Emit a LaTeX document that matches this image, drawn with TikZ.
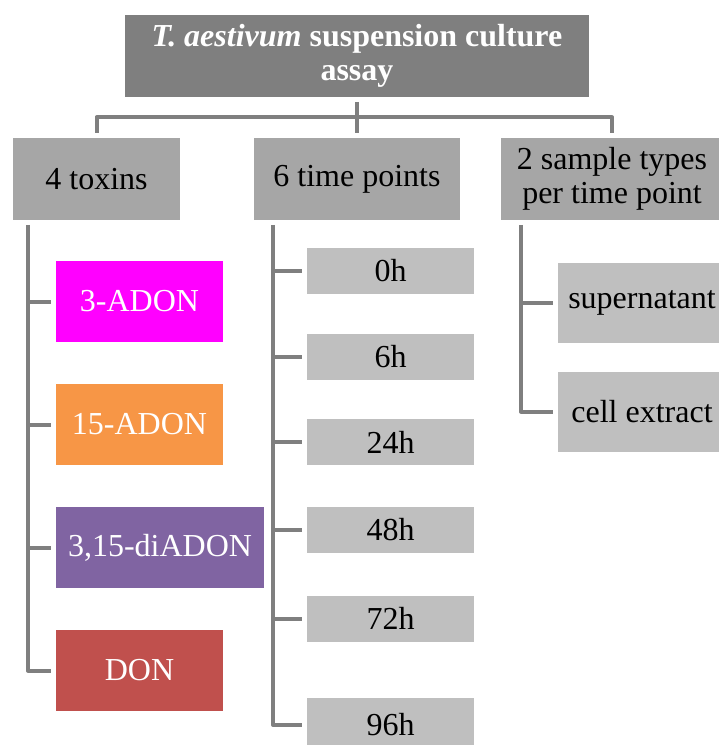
\documentclass[tikz,border=0pt]{standalone}
\usepackage{fontspec}
\setmainfont{Liberation Serif}
\definecolor{darkbox}{HTML}{7F7F7F}
\definecolor{midbox}{HTML}{A6A6A6}
\definecolor{lightbox}{HTML}{BFBFBF}
\definecolor{magentabox}{HTML}{FF00FF}
\definecolor{orangebox}{HTML}{F79646}
\definecolor{purplebox}{HTML}{8064A2}
\definecolor{redbox}{HTML}{C0504D}
\tikzset{
  box/.style={inner sep=0pt, outer sep=3.75pt, align=center,
    font=\fontsize{24}{25.5}\selectfont},
  headbox/.style={box, fill=darkbox, text=white, minimum width=348pt, minimum height=61.5pt},
  groupbox/.style={box, fill=midbox, minimum height=61.5pt},
  toxbox/.style={box, fill=#1, text=white, minimum width=125.25pt, minimum height=60.75pt},
  timebox/.style={box, fill=lightbox, minimum width=125.25pt, minimum height=34.5pt},
  samplebox/.style={box, fill=lightbox, minimum width=126pt, minimum height=60pt},
  link/.style={draw=darkbox, line width=3pt, line join=round}
}
\begin{document}
\begin{tikzpicture}[x=0.75pt, y=-0.75pt]
\useasboundingbox (0,0) rectangle (718,745);
%
\node[headbox] (assay) at (357,56) {\bfseries\itshape T. aestivum\/ \upshape suspension culture\\ \bfseries assay};
\node[groupbox, minimum width=125.25pt] (toxins) at (96.5,179) {4 toxins};
\node[groupbox, minimum width=154.5pt] (times) at (357,179) {6 time points};
\node[groupbox, minimum width=166.5pt] (samples) at (612,179) {2 sample types\\per time point};
%
\draw[link] (assay.south) -- ++(0,15.5) coordinate (bar);
\draw[link] (toxins.north) |- (bar) -| (samples.north);
\draw[link] (bar) -- (times.north); % Niveau 1
%
\node[toxbox=magentabox] (adon3) at (139.5,301.5) {3-ADON};
\node[toxbox=orangebox] (adon15) at (139.5,424.5) {15-ADON};
\node[toxbox=purplebox, minimum width=156pt] (diadon) at (160,547.5) {3,15-diADON};
\node[toxbox=redbox] (don) at (139.5,670.5) {DON};
\draw[link] ([xshift=15pt]toxins.south west) coordinate (tline) |- (don.west);
\foreach \t in {adon3,adon15,diadon}
  \draw[link] (tline |- \t.west) -- (\t.west); % Toxines
%
\node[timebox] (h0) at (390.5,270.5) {0h};
\node[timebox] (h6) at (390.5,357) {6h};
\node[timebox] (h24) at (390.5,442) {24h};
\node[timebox] (h48) at (390.5,530) {48h};
\node[timebox] (h72) at (390.5,618.5) {72h};
\node[timebox, minimum height=40.5pt] (h96) at (390.5,725) {96h};
\draw[link] ([xshift=18pt]times.south west) coordinate (hline) |- (h96.west);
\foreach \h in {h0,h6,h24,h48,h72}
  \draw[link] (hline |- \h.west) -- (\h.west); % Temps
%
\node[samplebox] (super) at (642,302.5) {supernatant};
\node[samplebox] (cell) at (642,411.5) {cell extract};
\draw[link] ([xshift=18.75pt]samples.south west) coordinate (sline) |- (cell.west);
\draw[link] (sline |- super.west) -- (super.west); % Echantillons
\end{tikzpicture}
\end{document}
